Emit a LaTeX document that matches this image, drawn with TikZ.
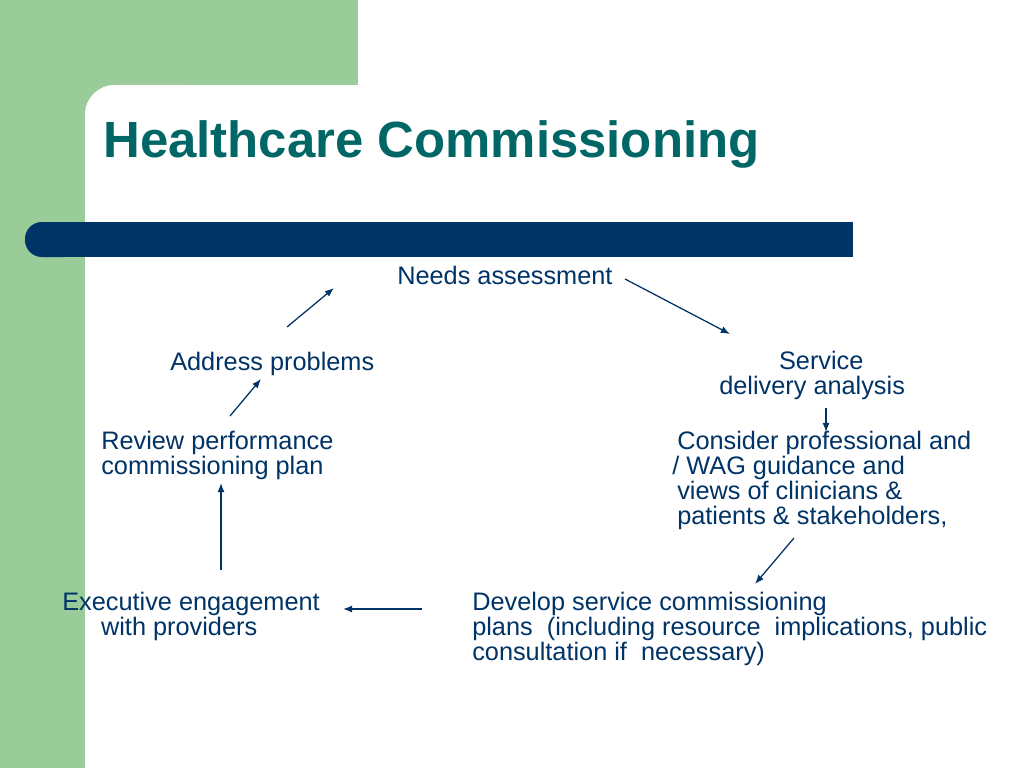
\documentclass[tikz,border=0pt]{standalone}
\usepackage{fontspec}
\setmainfont{Liberation Sans}
\usetikzlibrary{arrows.meta}

\definecolor{slidegreen}{RGB}{153,204,153}
\definecolor{barnavy}{RGB}{0,51,102}
\definecolor{titleteal}{RGB}{0,102,102}
\definecolor{textnavy}{RGB}{0,51,102}

\begin{document}
\begin{tikzpicture}[
        x=0.025cm, y=-0.025cm,
        every node/.style={font=\fontsize{18}{17.7}\selectfont, text=textnavy,
            inner sep=0pt, anchor=base west, align=left},
        flow/.style={-{Latex[length=6.5pt,width=5pt]}, draw=textnavy, line width=0.9pt}
    ]
    \useasboundingbox (0,0) rectangle (1024,768);

    % =====================================================
    % Slide background
    % =====================================================
    \fill[white] (0,0) rectangle (1024,768);
    \fill[slidegreen] (0,0) rectangle (358,85);
    \fill[slidegreen] (0,0) rectangle (85,768);
    \fill[slidegreen] (85,85) rectangle (125,125);
    \fill[white, rounded corners=21pt] (85,85) rectangle (220,220);

    % Title bar
    \fill[barnavy, rounded corners=12pt] (25,222) rectangle (80,257);
    \fill[barnavy] (50,222) rectangle (853,257);

    \node[font=\fontsize{36.2}{40}\selectfont\bfseries, text=titleteal] (title)
        at (103,158) {Healthcare Commissioning};

    % =====================================================
    % Cycle steps (placed at the baseline of their last line)
    % =====================================================
    \node (needs) at (397,284) {Needs assessment};
    \node (address) at (170,370) {Address problems};
    \node (service) at (719,394) {\hspace*{42.5pt}Service\\delivery analysis};
    \node (review) at (101,474) {Review performance\\commissioning plan};
    \node (consider) at (677,524)
        {Consider professional and\\\hspace*{-3.5pt}/ WAG guidance and\\views of clinicians \&\\patients \& stakeholders,};
    \node (executive) at (62,635) {Executive engagement\\\hspace*{27.6pt}with providers};
    \node (develop) at (472,660)
        {Develop service commissioning\\plans~ (including resource~ implications, public\\consultation if~ necessary)};

    % Arrow ends
    \coordinate (address-out) at (287,327);
    \coordinate (needs-in) at (334,288);
    \coordinate (needs-out) at (625,279);
    \coordinate (service-in) at (730,334);
    \coordinate (service-out) at (826,408);
    \coordinate (consider-in) at (826,432);
    \coordinate (consider-out) at (794,538);
    \coordinate (develop-in) at (755,584);
    \coordinate (develop-out) at (422,609);
    \coordinate (executive-in) at (343,609);
    \coordinate (executive-out) at (221,570);
    \coordinate (review-in) at (221,483);
    \coordinate (review-out) at (230,416);
    \coordinate (address-in) at (261,379);

    % =====================================================
    % Arrows
    % =====================================================
    \draw[flow] (address-out) -- (needs-in);
    \draw[flow] (needs-out) -- (service-in);
    \draw[flow] (service-out) -- (consider-in);
    \draw[flow] (consider-out) -- (develop-in);
    \draw[flow] (develop-out) -- (executive-in);
    \draw[flow] (executive-out) -- (review-in);
    \draw[flow] (review-out) -- (address-in);

\end{tikzpicture}
\end{document}
